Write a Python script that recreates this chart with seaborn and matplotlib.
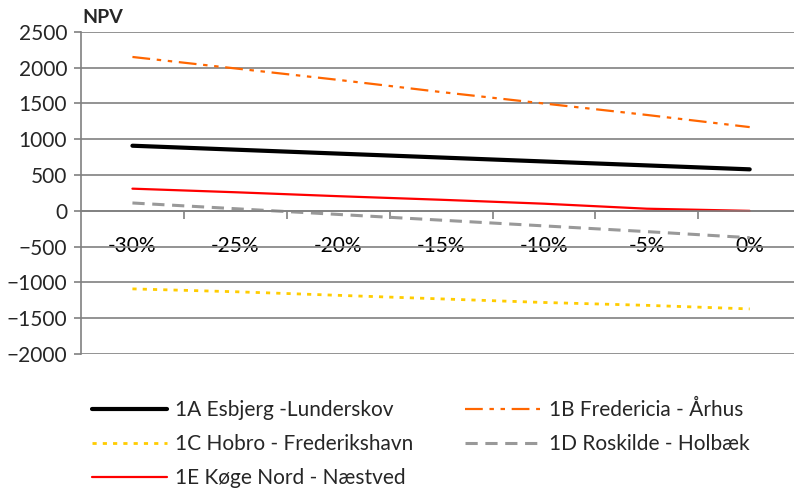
import matplotlib
matplotlib.use("Agg")
import pandas as pd
import matplotlib.pyplot as plt
import seaborn as sns

sns.set_style("white")
plt.rcParams['font.family'] = ['Lato', 'DejaVu Sans']

categories = ['-30%', '-25%', '-20%', '-15%', '-10%', '-5%', '0%']
npv_1a = [910, 855, 800, 745, 690, 635, 580]
npv_1b = [2150, 1990, 1830, 1660, 1500, 1340, 1170]
npv_1c = [-1090, -1130, -1180, -1230, -1280, -1320, -1370]
npv_1d = [110, 30, -50, -130, -210, -290, -375]
npv_1e = [310, 260, 205, 155, 100, 30, 0]

series = {
    '1A Esbjerg -Lunderskov': npv_1a,
    '1B Fredericia - Århus': npv_1b,
    '1C Hobro - Frederikshavn': npv_1c,
    '1D Roskilde - Holbæk': npv_1d,
    '1E Køge Nord - Næstved': npv_1e,
}
styles = {
    '1A Esbjerg -Lunderskov': dict(color='black', lw=3.0, ls='-'),
    '1B Fredericia - Århus': dict(color='#FF6600', lw=1.6, ls=(0, (8, 3, 2, 3, 2, 3))),
    '1C Hobro - Frederikshavn': dict(color='#FFCC00', lw=2.0, ls=(0, (1.5, 2.2))),
    '1D Roskilde - Holbæk': dict(color='#999999', lw=2.2, ls=(0, (4, 2.5))),
    '1E Køge Nord - Næstved': dict(color='#FF0000', lw=1.6, ls='-'),
}

fig = plt.figure(figsize=(7.94, 4.91), dpi=100)
ax = fig.add_axes([0.102, 0.279, 0.907, 0.656])

pos = list(range(len(categories)))
handles = {}
for name, vals in series.items():
    df = pd.DataFrame({'x': pos, 'NPV': vals})
    st = styles[name]
    sns.lineplot(data=df, x='x', y='NPV', ax=ax, color=st['color'], lw=st['lw'],
                 linestyle=st['ls'], label=name, legend=False)
    handles[name] = ax.lines[-1]

ax.set_xlim(-0.5, len(categories) - 0.5)
ax.set_ylim(-2000, 2500)
ax.set_yticks(range(-2000, 2501, 500))
ax.yaxis.grid(True, color='#808080', lw=1.2)
ax.set_axisbelow(True)

ax.spines['top'].set_visible(False)
ax.spines['right'].set_visible(False)
ax.spines['left'].set_color('#808080')
ax.spines['left'].set_linewidth(1.2)
ax.spines['bottom'].set_position(('data', 0))
ax.spines['bottom'].set_color('#808080')
ax.spines['bottom'].set_linewidth(1.2)

ax.set_xticks(pos)
ax.set_xticklabels(categories)
ax.set_xticks([p + 0.5 for p in pos[:-1]], minor=True)
ax.tick_params(axis='x', which='major', length=0, pad=18, labelsize=15, colors='black')
ax.tick_params(axis='x', which='minor', length=6, width=1.2, color='#808080', direction='out', bottom=True)
ax.tick_params(axis='y', length=5, width=1.2, color='#808080', direction='out', left=True,
               labelsize=15, pad=5)
ax.set_xlabel('')
ax.set_ylabel('')

fig.text(0.104, 0.965, 'NPV', fontsize=14, fontweight='bold', ha='left', va='center')

order = ['1A Esbjerg -Lunderskov', '1C Hobro - Frederikshavn', '1E Køge Nord - Næstved',
         '1B Fredericia - Århus', '1D Roskilde - Holbæk']
fig.legend([handles[n] for n in order], order, ncol=2, loc='upper left',
           bbox_to_anchor=(0.092, 0.224), frameon=False, fontsize=15,
           handlelength=3.6, handletextpad=0.4, columnspacing=2.5, labelspacing=0.68)

fig.savefig('out.png', dpi=100)
